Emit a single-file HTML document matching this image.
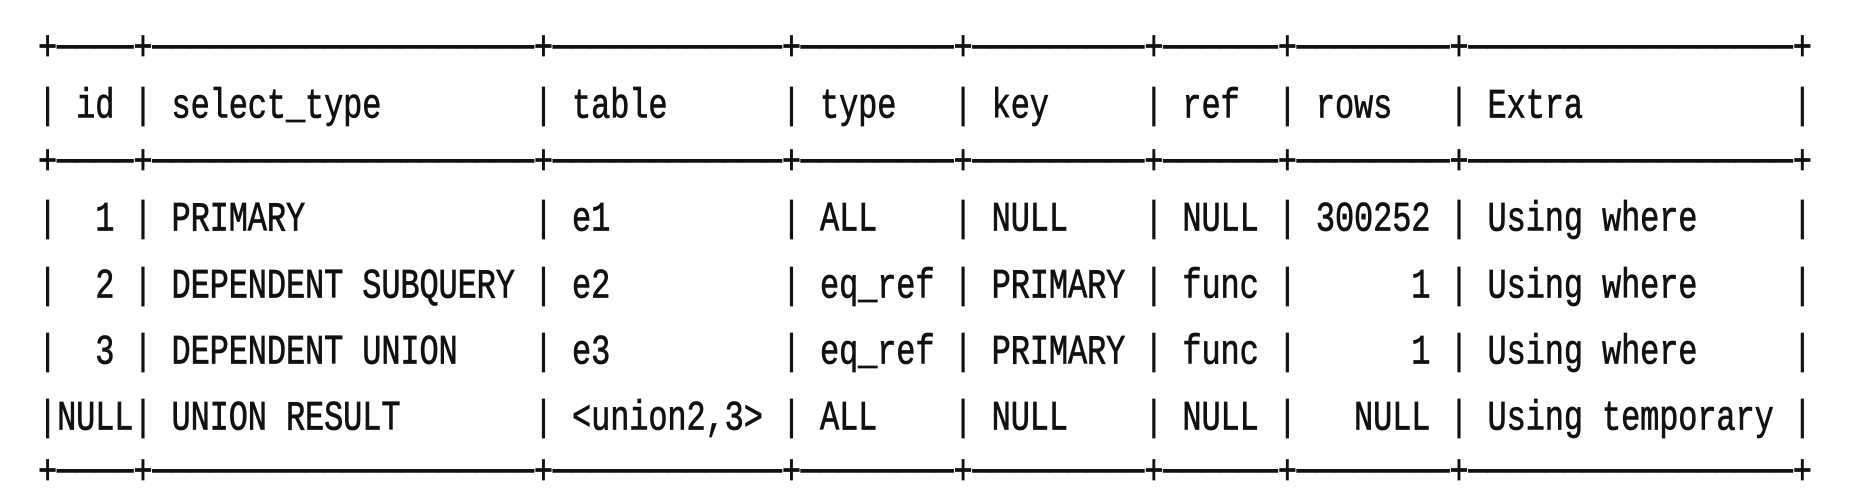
<!DOCTYPE html>
<html><head><meta charset="utf-8"><style>
html,body{margin:0;padding:0;background:#fff;width:1872px;height:494px;overflow:hidden;}
.l{position:absolute;left:38px;white-space:pre;font-family:"Liberation Mono","DejaVu Sans Mono",monospace;font-size:32px;letter-spacing:-0.13px;line-height:40px;height:40px;color:#111;-webkit-text-stroke:0.6px #111;transform:scaleY(1.3);transform-origin:0 50%;}
</style></head><body>
<div class="l" style="top:29px">+────+────────────────────+────────────+────────+─────────+──────+────────+─────────────────+</div>
<div class="l" style="top:87px">| id | select_type        | table      | type   | key     | ref  | rows   | Extra           |</div>
<div class="l" style="top:143px">+────+────────────────────+────────────+────────+─────────+──────+────────+─────────────────+</div>
<div class="l" style="top:200px">|  1 | PRIMARY            | e1         | ALL    | NULL    | NULL | 300252 | Using where     |</div>
<div class="l" style="top:267px">|  2 | DEPENDENT SUBQUERY | e2         | eq_ref | PRIMARY | func |      1 | Using where     |</div>
<div class="l" style="top:333px">|  3 | DEPENDENT UNION    | e3         | eq_ref | PRIMARY | func |      1 | Using where     |</div>
<div class="l" style="top:399px">|NULL| UNION RESULT       | &lt;union2,3&gt; | ALL    | NULL    | NULL |   NULL | Using temporary |</div>
<div class="l" style="top:453px">+────+────────────────────+────────────+────────+─────────+──────+────────+─────────────────+</div>
</body></html>
